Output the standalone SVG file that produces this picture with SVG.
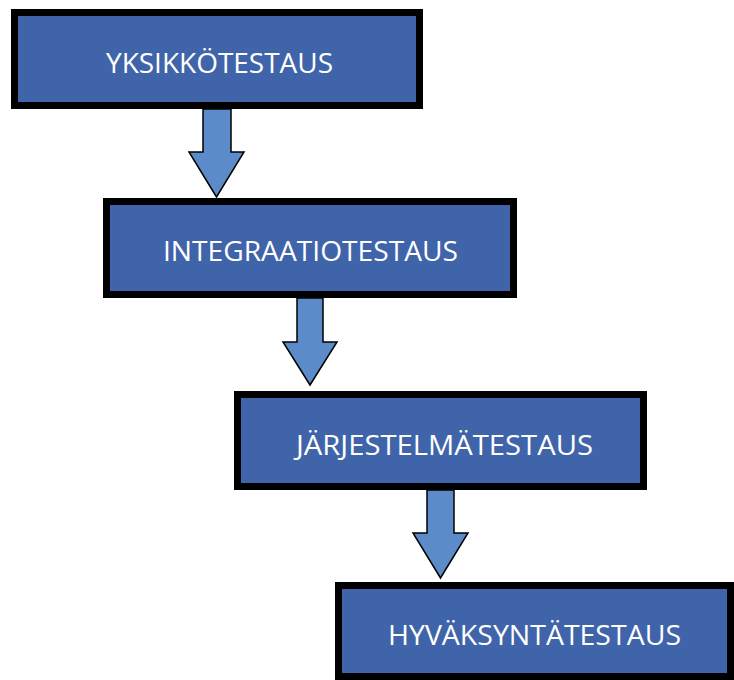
<svg xmlns="http://www.w3.org/2000/svg" width="734" height="680" viewBox="0 0 734 680">
<style>
.box{fill:#3F64AA;stroke:#000;stroke-width:7}
.lbl{fill:#fff;font-family:"Open Sans","Liberation Sans",sans-serif;font-size:28px;text-anchor:middle}
.arr{fill:#5B8BC8;stroke:#000;stroke-width:1.5;stroke-linejoin:miter}
</style>
<rect width="734" height="680" fill="#fff"/>
<g id="connectors">
<path class="arr" d="M203,109 L231,109 L231,152 L244,152 L216.5,197 L189,152 L203,152 Z"/>
<path class="arr" d="M297,298 L323,298 L323,342 L337,342 L310,385 L283,342 L297,342 Z"/>
<path class="arr" d="M427,490 L454,490 L454,533 L468,533 L440.5,578 L413,533 L427,533 Z"/>
</g>
<g id="yksikkotestaus">
<rect class="box" x="14.5" y="12.5" width="405" height="93"/>
<text class="lbl" x="219.5" y="73" textLength="227" lengthAdjust="spacingAndGlyphs">YKSIKKÖTESTAUS</text>
</g>
<g id="integraatiotestaus">
<rect class="box" x="106.5" y="201.5" width="407" height="93"/>
<text class="lbl" x="310.5" y="261" textLength="295" lengthAdjust="spacingAndGlyphs">INTEGRAATIOTESTAUS</text>
</g>
<g id="jarjestelmatestaus">
<rect class="box" x="237.5" y="394.5" width="406" height="92"/>
<text class="lbl" x="444.5" y="455" textLength="297" lengthAdjust="spacingAndGlyphs">JÄRJESTELMÄTESTAUS</text>
</g>
<g id="hyvaksyntatestaus">
<rect class="box" x="338.5" y="585.5" width="392" height="91"/>
<text class="lbl" x="534.5" y="645" textLength="293" lengthAdjust="spacingAndGlyphs">HYVÄKSYNTÄTESTAUS</text>
</g>
</svg>
